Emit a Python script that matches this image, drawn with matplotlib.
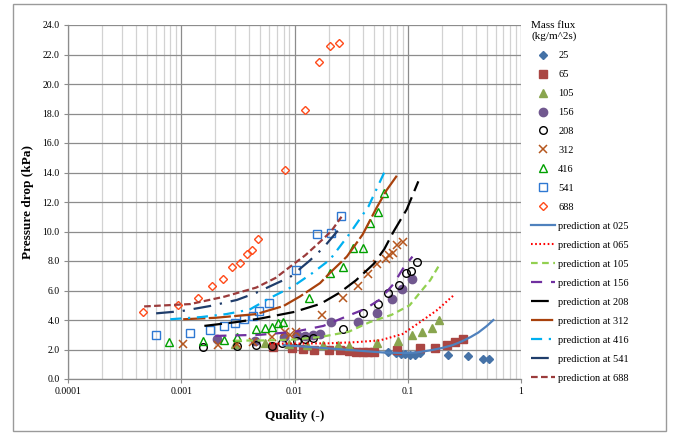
import matplotlib
matplotlib.use("Agg")
import matplotlib.pyplot as plt
from matplotlib.patches import Rectangle
from matplotlib.ticker import FixedLocator, FuncFormatter, NullFormatter, LogLocator

plt.rcParams['font.family'] = ['Liberation Serif', 'DejaVu Serif']

# ---------------- measured data ----------------
x_25 = [0.067, 0.078, 0.087, 0.095, 0.104, 0.115, 0.127, 0.228, 0.34, 0.46, 0.52]
y_25 = [1.85, 1.75, 1.70, 1.68, 1.65, 1.65, 1.75, 1.60, 1.55, 1.37, 1.35]

x_65 = [0.0065, 0.0095, 0.012, 0.015, 0.02, 0.025, 0.03, 0.035, 0.04, 0.045, 0.05,
        0.08, 0.128, 0.174, 0.22, 0.26, 0.305]
y_65 = [2.2, 2.1, 2.05, 2.0, 2.0, 1.95, 1.9, 1.85, 1.85, 1.85, 1.85,
        1.97, 2.08, 2.1, 2.3, 2.53, 2.68]

x_105 = [0.003, 0.0055, 0.009, 0.013, 0.018, 0.024, 0.03, 0.053, 0.082, 0.108, 0.134, 0.165, 0.19]
y_105 = [2.4, 2.45, 2.35, 2.3, 2.3, 2.3, 2.25, 2.45, 2.6, 2.95, 3.2, 3.45, 4.0]

x_156 = [0.00205, 0.0045, 0.008, 0.0105, 0.0125, 0.0145, 0.0168, 0.021, 0.036, 0.054, 0.073, 0.089, 0.11]
y_156 = [2.7, 2.6, 2.85, 2.95, 2.9, 3.0, 3.05, 3.85, 3.85, 4.5, 5.4, 6.1, 6.75]

x_208 = [0.00157, 0.0031, 0.0046, 0.0063, 0.0078, 0.0105, 0.0123, 0.0145, 0.027, 0.0405,
         0.055, 0.067, 0.083, 0.096, 0.107, 0.121]
y_208 = [2.2, 2.22, 2.3, 2.25, 2.42, 2.6, 2.7, 2.8, 3.42, 4.47, 5.08, 5.84, 6.37, 7.16, 7.3, 7.95]

x_312 = [0.00104, 0.0021, 0.0031, 0.0043, 0.0063, 0.0082, 0.0091, 0.0104, 0.0175, 0.0266,
         0.036, 0.045, 0.054, 0.064, 0.068, 0.074, 0.081, 0.09]
y_312 = [2.4, 2.3, 2.35, 2.53, 2.87, 3.21, 2.98, 3.21, 4.34, 5.47, 6.3, 7.1, 7.77, 8.16,
         8.4, 8.56, 9.1, 9.27]

x_416 = [0.00078, 0.00157, 0.0024, 0.0031, 0.0046, 0.0055, 0.0063, 0.0071, 0.0079, 0.0134,
         0.0206, 0.027, 0.033, 0.0405, 0.0468, 0.055, 0.0616]
y_416 = [2.53, 2.6, 2.64, 2.82, 3.36, 3.43, 3.54, 3.77, 3.89, 5.47, 7.21, 7.57, 8.86, 8.86,
         10.6, 11.35, 12.58]

x_541 = [0.0006, 0.0012, 0.0018, 0.0024, 0.003, 0.0036, 0.0043, 0.0049, 0.0059, 0.0104,
         0.0157, 0.0208, 0.026]
y_541 = [2.98, 3.14, 3.32, 3.59, 3.77, 4.04, 4.27, 4.63, 5.17, 7.39, 9.8, 9.88, 11.07]

x_688 = [0.00046, 0.00094, 0.0014, 0.00186, 0.00235, 0.0028, 0.0033, 0.0038, 0.0042, 0.0048,
         0.0082, 0.0124, 0.0165, 0.0205, 0.0245]
y_688 = [4.54, 5.05, 5.47, 6.3, 6.78, 7.57, 7.89, 8.45, 8.75, 9.49, 14.15, 18.26, 21.5, 22.58, 22.76]

# prediction curves
px_025 = [0.008, 0.015, 0.025, 0.04, 0.06, 0.09, 0.12, 0.16, 0.2, 0.25, 0.3, 0.36, 0.42, 0.5, 0.57]
py_025 = [2.3, 2.15, 2.02, 1.9, 1.8, 1.76, 1.8, 1.95, 2.1, 2.3, 2.55, 2.85, 3.15, 3.6, 4.0]

px_065 = [0.006, 0.01, 0.02, 0.035, 0.057, 0.09, 0.128, 0.18, 0.26]
py_065 = [2.4, 2.4, 2.42, 2.5, 2.62, 3.05, 3.85, 4.65, 5.74]

px_105 = [0.003, 0.006, 0.01, 0.017, 0.03, 0.046, 0.072, 0.104, 0.128, 0.158, 0.19]
py_105 = [2.6, 2.62, 2.68, 2.85, 3.2, 3.85, 4.35, 5.0, 5.85, 6.7, 7.73]

px_156 = [0.002, 0.005, 0.01, 0.018, 0.03, 0.042, 0.057, 0.075, 0.091, 0.11]
py_156 = [2.92, 3.0, 3.2, 3.6, 4.3, 4.75, 5.4, 6.45, 7.5, 8.3]

px_208 = [0.0016, 0.003, 0.005, 0.01, 0.017, 0.025, 0.035, 0.05, 0.062, 0.075, 0.098, 0.124]
py_208 = [3.6, 3.85, 4.1, 4.55, 5.1, 5.85, 6.7, 7.8, 8.8, 10.0, 11.5, 13.4]

px_312 = [0.00104, 0.002, 0.0046, 0.008, 0.0112, 0.0168, 0.0206, 0.029, 0.04, 0.053, 0.065, 0.083]
py_312 = [4.05, 4.15, 4.4, 4.95, 5.6, 6.5, 7.2, 8.3, 9.8, 11.6, 12.8, 13.95]

px_416 = [0.0008, 0.0015, 0.0025, 0.004, 0.0061, 0.0098, 0.0145, 0.0206, 0.031, 0.045, 0.062]
py_416 = [4.05, 4.2, 4.4, 4.7, 5.5, 6.3, 7.2, 8.1, 9.9, 11.7, 14.0]

px_541 = [0.0006, 0.001, 0.0018, 0.0031, 0.0046, 0.0069, 0.0091, 0.0135, 0.018, 0.025]
py_541 = [4.45, 4.6, 4.95, 5.36, 5.85, 6.48, 6.9, 8.0, 8.9, 10.2]

px_688 = [0.00047, 0.0012, 0.0024, 0.0046, 0.0068, 0.0091, 0.0125, 0.0168, 0.021, 0.026]
py_688 = [4.92, 5.08, 5.58, 6.2, 6.85, 7.6, 8.4, 9.3, 10.0, 11.0]

scatter_labels = ['25', '65', '105', '156', '208', '312', '416', '541', '688']
pred_labels = ['prediction at 025', 'prediction at 065', 'prediction at 105',
               'prediction at 156', 'prediction at 208', 'prediction at 312',
               'prediction at 416', 'prediction at 541', 'prediction at 688']
y_ticks = [0, 2, 4, 6, 8, 10, 12, 14, 16, 18, 20, 22, 24]
x_ticks = [0.0001, 0.001, 0.01, 0.1, 1]
x_tick_labels = ['0.0001', '0.001', '0.01', '0.1', '1']

# ---------------- figure ----------------
W, H = 675, 433
fig = plt.figure(figsize=(W / 100, H / 100), dpi=100)
fig.patches.append(Rectangle((13 / W, 1 - 431 / H), (666 - 13) / W, (431 - 4) / H,
                             transform=fig.transFigure, fill=False,
                             edgecolor='#9a9a9a', linewidth=1.0))
ax = fig.add_axes([68 / W, 1 - 379 / H, (521 - 68) / W, (379 - 25) / H])

ax.set_xscale('log')
ax.set_xlim(0.0001, 1)
ax.set_ylim(0, 24)

scat = [
    (x_25, y_25, dict(marker='D', ms=4.5, color='#4572A7', mfc='#4572A7', mec='#4572A7')),
    (x_65, y_65, dict(marker='s', ms=5.5, color='#AA4643', mfc='#AA4643', mec='#AA4643')),
    (x_105, y_105, dict(marker='^', ms=6, color='#89A54E', mfc='#89A54E', mec='#89A54E')),
    (x_156, y_156, dict(marker='o', ms=6, color='#71588F', mfc='#71588F', mec='#71588F')),
    (x_208, y_208, dict(marker='o', ms=5.5, color='black', mfc='none', mec='black', mew=1.0)),
    (x_312, y_312, dict(marker='x', ms=5.5, color='#B5561E', mec='#B5561E', mew=1.1)),
    (x_416, y_416, dict(marker='^', ms=6, color='#00A000', mfc='none', mec='#00A000', mew=1.0)),
    (x_541, y_541, dict(marker='s', ms=6, color='#2E78D2', mfc='none', mec='#2E78D2', mew=1.0)),
    (x_688, y_688, dict(marker='D', ms=4.5, color='#FF4A1A', mfc='none', mec='#FF4A1A', mew=1.0)),
]
handles = []
for (xs, ys, kw), lab in zip(scat, scatter_labels):
    h, = ax.plot(xs, ys, linestyle='none', label=lab, zorder=3, **kw)
    handles.append(h)

preds = [
    (px_025, py_025, dict(color='#4F81BD', lw=1.6, linestyle='-')),
    (px_065, py_065, dict(color='#FF0000', lw=1.5, linestyle=(0, (0.8, 1.2)))),
    (px_105, py_105, dict(color='#92D050', lw=1.6, linestyle=(0, (3, 2)))),
    (px_156, py_156, dict(color='#7030A0', lw=1.6, linestyle=(0, (5, 4)))),
    (px_208, py_208, dict(color='black', lw=1.6, linestyle=(0, (8, 3)))),
    (px_312, py_312, dict(color='#A8410C', lw=1.6, linestyle=(0, (10, 1.5)))),
    (px_416, py_416, dict(color='#00B0F0', lw=1.6, linestyle=(0, (5, 3, 1, 3)))),
    (px_541, py_541, dict(color='#1F3D6B', lw=1.6, linestyle=(0, (8, 4, 1, 4)))),
    (px_688, py_688, dict(color='#9B3B3B', lw=1.6, linestyle=(0, (3, 1.5)))),
]
for (xs, ys, kw), lab in zip(preds, pred_labels):
    h, = ax.plot(xs, ys, label=lab, zorder=4, **kw)
    handles.append(h)

# grid
ax.set_yticks(y_ticks)
ax.yaxis.set_major_formatter(FuncFormatter(lambda v, p: f'{v:.1f}'))
ax.xaxis.set_major_locator(FixedLocator(x_ticks))
ax.xaxis.set_minor_locator(LogLocator(base=10, subs=range(2, 10)))
ax.xaxis.set_minor_formatter(NullFormatter())
ax.set_xticklabels(x_tick_labels)
ax.grid(True, which='major', axis='both', color='#8c8c8c', lw=0.9, zorder=0)
ax.grid(True, which='minor', axis='x', color='#d2d2d2', lw=0.9, zorder=0)
ax.set_axisbelow(True)
for s in ['top', 'right']:
    ax.spines[s].set_visible(False)
for s in ['left', 'bottom']:
    ax.spines[s].set_color('#8c8c8c')
    ax.spines[s].set_linewidth(0.9)
ax.tick_params(axis='both', which='major', labelsize=7, length=3, color='#8c8c8c', pad=3)
ax.tick_params(axis='x', which='minor', length=0)

ax.set_xlabel('Quality (-)', fontsize=9.5, fontweight='bold', labelpad=10)
ax.set_ylabel('Pressure drop (kPa)', fontsize=9.5, fontweight='bold', labelpad=6)

leg = ax.legend(handles=handles, loc='upper left', bbox_to_anchor=(527 / W, 1 - 17 / H),
                bbox_transform=fig.transFigure, frameon=False, fontsize=7.5,
                title='Mass flux\n(kg/m^2s)', title_fontsize=8, alignment='left',
                handlelength=2.3, handletextpad=0.3, labelspacing=0.93, borderaxespad=0)

fig.savefig('out.png', dpi=100)
